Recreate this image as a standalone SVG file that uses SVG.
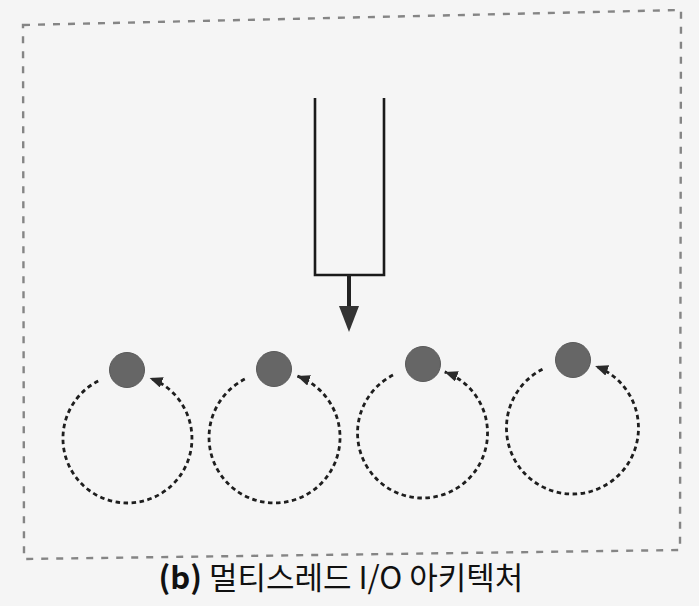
<svg xmlns="http://www.w3.org/2000/svg" width="699" height="606" viewBox="0 0 699 606">
  <style>
    .frame { fill: none; stroke: #858585; stroke-width: 2.4; stroke-dasharray: 7 8; }
    .box { fill: none; stroke: #1a1a1a; stroke-width: 2.6; stroke-linejoin: miter; }
    .loop { fill: none; stroke: #1e1e1e; stroke-width: 2.8; stroke-dasharray: 4.5 3.5; }
    .thread { fill: #666666; stroke: #5a5a5a; stroke-width: 1; }
    .caption { font-family: "Noto Sans CJK KR", "Noto Sans", sans-serif; font-size: 31px; fill: #111111; }
  </style>
  <defs>
    <marker id="ah" markerUnits="userSpaceOnUse" markerWidth="16" markerHeight="14" refX="13" refY="5.5" orient="auto">
      <path d="M0,0 L13,5.5 L0,11 z" fill="#2a2a2a"/>
    </marker>
  </defs>
  <rect width="699" height="606" fill="#f5f5f5"/>
  <path class="frame" d="M23,25 L681,10 L680,550 L24,559 Z"/>

  <g id="queue">
    <path class="box" d="M315,98 V275 H384 V98"/>
  </g>

  <g id="connectors">
    <line x1="349" y1="275" x2="349" y2="308" stroke="#222" stroke-width="4"/>
    <polygon points="339,306 359,306 349,332" fill="#333"/>
    <path class="loop" marker-end="url(#ah)" d="M98.2,381.0 A64.5,64.5 0 1 0 149.6,377.9"/>
    <path class="loop" marker-end="url(#ah)" d="M244.8,379.1 A65.5,65.5 0 1 0 296.9,375.9"/>
    <path class="loop" marker-end="url(#ah)" d="M393.0,375.1 A65,65 0 1 0 444.7,371.9"/>
    <path class="loop" marker-end="url(#ah)" d="M542.5,369.2 A66,66 0 1 0 595.1,366.0"/>
  </g>

  <g id="thread1"><circle class="thread" cx="127" cy="370" r="17.5"/></g>
  <g id="thread2"><circle class="thread" cx="274" cy="369" r="17.5"/></g>
  <g id="thread3"><circle class="thread" cx="423" cy="364" r="17.5"/></g>
  <g id="thread4"><circle class="thread" cx="573" cy="360" r="17.5"/></g>

  <text class="caption" x="341" y="589" text-anchor="middle"><tspan font-weight="700">(b)</tspan> 멀티스레드 I/O 아키텍처</text>
</svg>
